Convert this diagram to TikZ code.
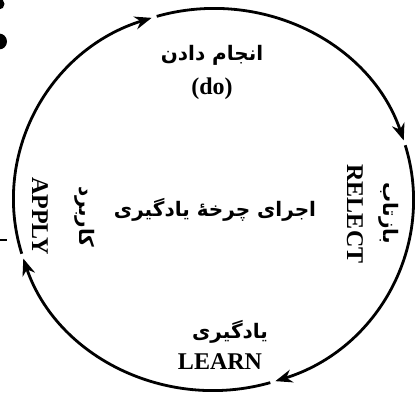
\documentclass[tikz,border=0pt]{standalone}
\usepackage{fontspec}
\setmainfont{Liberation Serif}
\newfontfamily\farsifont[Script=Arabic]{DejaVu Sans}
\TeXXeTstate=1
\usetikzlibrary{arrows.meta, positioning}

\begin{document}
\begin{tikzpicture}[
    x=1pt, y=1pt,
    cycle/.style={line width=2.8pt, -{Stealth[length=17pt, width=13pt]}},
    fa/.style={font=\farsifont\bfseries\fontsize{20}{24}\selectfont, inner sep=0pt},
    en/.style={font=\bfseries\fontsize{24}{28}\selectfont, inner sep=0pt}
]
\useasboundingbox (0,0) rectangle (415,394);

% Define cycle
\coordinate (centre) at (213.5,194.5);
\draw[cycle] ([shift={(196.5:200pt and 191pt)}]centre)
    arc[start angle=196.5, end angle=108, x radius=200pt, y radius=191pt];
\draw[cycle] ([shift={(106.5:200pt and 191pt)}]centre)
    arc[start angle=106.5, end angle=18, x radius=200pt, y radius=191pt];
\draw[cycle] ([shift={(16.5:200pt and 191pt)}]centre)
    arc[start angle=16.5, end angle=-72, x radius=200pt, y radius=191pt];
\draw[cycle] ([shift={(-73.5:200pt and 191pt)}]centre)
    arc[start angle=-73.5, end angle=-162, x radius=200pt, y radius=191pt];

% Define labels
\node[fa] (doFa) at (212,339) {\beginR انجام دادن\endR};
\node[en, below=12pt of doFa] (doEn) {(do)};
\node[fa] (cycleFa) at (215,184) {\beginR اجرای چرخهٔ یادگیری\endR};
\node[en, rotate=-90] (reflectEn) at (355,180) {RELECT};
\node[fa, rotate=-90] (reflectFa) at (389,181) {\beginR بازتاب\endR};
\node[en, rotate=-90] (applyEn) at (40,178) {APPLY};
\node[fa, rotate=-90] (applyFa) at (85,177) {\beginR کاربرد\endR};
\node[fa] (learnFa) at (230,62) {\beginR یادگیری\endR};
\node[en] (learnEn) at (220,32) {LEARN};

% Page edge marks
\fill (-1,390) circle (5.5);
\fill (-1,352.5) circle (8);
\draw[line width=1.2pt] (0,154) -- (7,154);

\end{tikzpicture}
\end{document}
